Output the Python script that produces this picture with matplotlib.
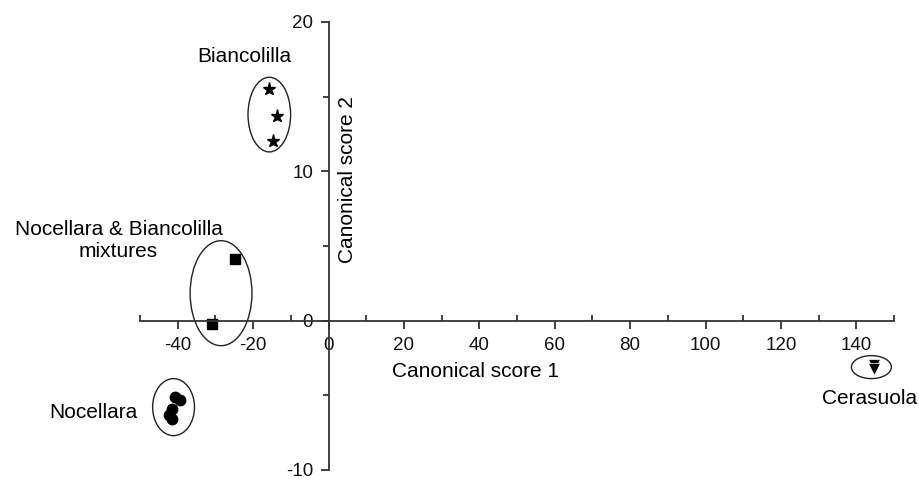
import numpy as np
import matplotlib
matplotlib.use("Agg")
import matplotlib.pyplot as plt
from matplotlib.patches import Ellipse
from matplotlib.ticker import MultipleLocator

plt.rcParams['font.family'] = ['Liberation Sans', 'DejaVu Sans']
plt.rcParams['axes.unicode_minus'] = False

# canonical scores per cultivar group
bianco_x = [-15.9, -13.6, -14.8]
bianco_y = [15.5, 13.7, 12.0]
mix_x = [-24.7, -30.8]
mix_y = [4.15, -0.25]
noce_x = [-40.6, -39.5, -41.4, -42.2, -41.6]
noce_y = [-5.1, -5.3, -5.9, -6.3, -6.6]
cera_x = [144.6, 144.6]
cera_y = [-3.0, -3.25]

# group ellipses: centre x, centre y, width, height
ellipses = [
    (-15.7, 13.8, 11.3, 5.0),
    (-28.5, 1.84, 16.4, 7.03),
    (-41.1, -5.79, 11.1, 3.82),
    (144.0, -3.11, 10.6, 1.54),
]

fig = plt.figure(figsize=(9.19, 4.8), dpi=100)
ax = fig.add_axes([140 / 919, 10 / 480, 754 / 919, 448 / 480])

ax.plot(bianco_x, bianco_y, '*', color='black', ms=9.5)
ax.plot(mix_x, mix_y, 's', color='black', ms=6.5)
ax.plot(noce_x, noce_y, 'o', color='black', ms=7.5)
ax.plot(cera_x, cera_y, 'v', color='black', ms=9, mec='white', mew=0.5)

for cx, cy, w, h in ellipses:
    ax.add_patch(Ellipse((cx, cy), w, h, fill=False, edgecolor='#222222', lw=1.0))

ax.set_xlim(-50, 150)
ax.set_ylim(-10, 20)

ax.spines['left'].set_position(('data', 0))
ax.spines['bottom'].set_position(('data', 0))
ax.spines['top'].set_visible(False)
ax.spines['right'].set_visible(False)
for s in ['left', 'bottom']:
    ax.spines[s].set_linewidth(1.3)
    ax.spines[s].set_color('#333333')

ax.xaxis.set_major_locator(MultipleLocator(20))
ax.xaxis.set_minor_locator(MultipleLocator(10))
ax.yaxis.set_major_locator(MultipleLocator(10))
ax.yaxis.set_minor_locator(MultipleLocator(5))
ax.tick_params(axis='x', which='major', direction='out', length=6, width=1.3,
               colors='#333333', labelsize=13.5, labelcolor='#111111', pad=6)
ax.tick_params(axis='x', which='minor', direction='in', length=4, width=1.3, colors='#333333')
ax.tick_params(axis='y', which='major', direction='out', length=6, width=1.3,
               colors='#333333', labelsize=13.5, labelcolor='#111111', pad=5)
ax.tick_params(axis='y', which='minor', direction='out', length=4, width=1.3, colors='#333333')

fs = 15
ax.text(-22.3, 17.7, 'Biancolilla', fontsize=fs, ha='center', va='center')
ax.text(-55.7, 5.36, 'Nocellara & Biancolilla\nmixtures', fontsize=fs,
        ha='center', va='center', linespacing=1.2)
ax.text(-62.3, -6.16, 'Nocellara', fontsize=fs, ha='center', va='center')
ax.text(143.5, -5.22, 'Cerasuola', fontsize=fs, ha='center', va='center')
ax.text(39, -3.42, 'Canonical score 1', fontsize=fs, ha='center', va='center')
ax.text(5.1, 9.44, 'Canonical score 2', fontsize=fs, ha='center', va='center', rotation=90)

fig.savefig('out.png', dpi=100)
